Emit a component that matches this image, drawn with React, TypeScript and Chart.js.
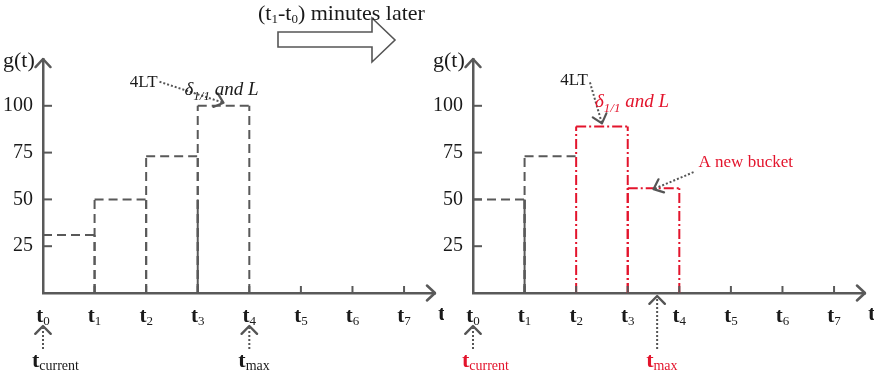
import React, { useEffect, useRef } from 'react';
import { Chart, registerables } from 'chart.js';

Chart.register(...registerables);

// ---------------- data ----------------
const tickValues = [0, 1, 2, 3, 4, 5, 6, 7];
const tickSubs = ['0', '1', '2', '3', '4', '5', '6', '7'];
const yTickValues = [25, 50, 75, 100];
const yTickLabels = ['25', '50', '75', '100'];
const xMax = 7.6;
const yMax = 125;

// before: bucket heights g(t) over [t0,t1], [t1,t2], [t2,t3], [t3,t4]
const beforeLevels = [31, 50, 73, 100];
const beforeSolidEdge = [3, 50]; // tick index, height of solid part
const beforeTmax = 4;
const beforeLabelBucket = 3;

// after (t1 - t0) minutes
const afterGrayLevels = [50, 73]; // buckets starting at t0
const afterRedStart = 2;
const afterRedLevels = [89, 56]; // buckets starting at t2
const afterSolidEdge = [1, 50];
const afterTmax = 3.57;
const afterLabelBucket = 2;
const afterNewBucket = 3;
const tCurrent = 0;

// ---------------- styles ----------------
const GRAY = '#595959';
const ARROW = '#555555';
const RED = '#e3142c';
const INK = '#1a1a1a';
const SERIF = '"Liberation Serif", "Times New Roman", serif';
const DASH_GRAY = [9, 5];
const DASH_RED = [10, 3, 2, 3];

type Pt = { x: number; y: number };
type Seg = { pts: Pt[]; color: string; dash: number[] };

function buckets(levels: number[], start: number, color: string, dash: number[], skipRightAt = -1): Seg[] {
  const segs: Seg[] = [];
  levels.forEach((L, k) => {
    const a = start + k;
    const b = a + 1;
    segs.push({ pts: [{ x: a, y: L }, { x: b, y: L }], color, dash });
    if (a > 0) segs.push({ pts: [{ x: a, y: 0 }, { x: a, y: L }], color, dash });
    if (b !== skipRightAt) segs.push({ pts: [{ x: b, y: 0 }, { x: b, y: L }], color, dash });
  });
  return segs;
}

function solidEdge(edge: number[], color: string): Seg {
  return { pts: [{ x: edge[0], y: 0 }, { x: edge[0], y: edge[1] }], color, dash: [] };
}

type Run = { text: string; font: string; dy?: number };

function drawRuns(ctx: CanvasRenderingContext2D, x: number, base: number, runs: Run[], align: string, color: string) {
  ctx.fillStyle = color;
  ctx.textAlign = 'left';
  ctx.textBaseline = 'alphabetic';
  let total = 0;
  runs.forEach((r) => {
    ctx.font = r.font;
    total += ctx.measureText(r.text).width;
  });
  let cx = align === 'left' ? x : align === 'center' ? x - total / 2 : x - total;
  runs.forEach((r) => {
    ctx.font = r.font;
    ctx.fillText(r.text, cx, base + (r.dy || 0));
    cx += ctx.measureText(r.text).width;
  });
}

function chevron(ctx: CanvasRenderingContext2D, tx: number, ty: number, angle: number, len: number, spread: number) {
  ctx.beginPath();
  ctx.moveTo(tx + len * Math.cos(angle + Math.PI - spread), ty + len * Math.sin(angle + Math.PI - spread));
  ctx.lineTo(tx, ty);
  ctx.lineTo(tx + len * Math.cos(angle + Math.PI + spread), ty + len * Math.sin(angle + Math.PI + spread));
  ctx.stroke();
}

function dottedArrow(ctx: CanvasRenderingContext2D, x1: number, y1: number, x2: number, y2: number) {
  ctx.save();
  ctx.strokeStyle = ARROW;
  ctx.lineWidth = 2;
  ctx.setLineDash([2, 2]);
  ctx.beginPath();
  ctx.moveTo(x1, y1);
  ctx.lineTo(x2, y2);
  ctx.stroke();
  ctx.setLineDash([]);
  ctx.lineWidth = 2.2;
  ctx.lineCap = 'round';
  chevron(ctx, x2, y2, Math.atan2(y2 - y1, x2 - x1), 11, 0.7);
  ctx.restore();
}

const deltaRuns = (): Run[] => [
  { text: 'δ', font: `italic 19px ${SERIF}` },
  { text: '1/1', font: `italic 13px ${SERIF}`, dy: 5 },
  { text: ' and L', font: `italic 19px ${SERIF}` },
];

type Cfg = {
  after: boolean;
  tmax: number;
  timeColor: string;
};

function overlay(cfg: Cfg) {
  return {
    id: 'overlay',
    afterDraw(chart: any) {
      const ctx: CanvasRenderingContext2D = chart.ctx;
      const ca = chart.chartArea;
      const xs = chart.scales.x;
      const ys = chart.scales.y;
      ctx.save();
      // axis arrowheads
      ctx.strokeStyle = GRAY;
      ctx.lineWidth = 2.5;
      ctx.lineCap = 'round';
      ctx.lineJoin = 'round';
      chevron(ctx, ca.left, ca.top, -Math.PI / 2, 11, 0.75);
      chevron(ctx, ca.right, ca.bottom, 0, 11, 0.75);
      // tick marks
      ctx.lineWidth = 2;
      ctx.lineCap = 'butt';
      tickValues.slice(1).forEach((v) => {
        const px = xs.getPixelForValue(v);
        ctx.beginPath();
        ctx.moveTo(px, ca.bottom);
        ctx.lineTo(px, ca.bottom - 7);
        ctx.stroke();
      });
      yTickValues.forEach((v) => {
        const py = ys.getPixelForValue(v);
        ctx.beginPath();
        ctx.moveTo(ca.left, py);
        ctx.lineTo(ca.left + 9, py);
        ctx.stroke();
      });
      // x tick labels
      tickValues.forEach((v, i) => {
        drawRuns(ctx, xs.getPixelForValue(v), ca.bottom + 29, [
          { text: 't', font: `bold 21px ${SERIF}` },
          { text: tickSubs[i], font: `13px ${SERIF}`, dy: 3 },
        ], 'center', INK);
      });
      drawRuns(ctx, ca.right + 3, ca.bottom + 27, [{ text: 't', font: `bold 22px ${SERIF}` }], 'left', INK);
      // y axis title
      drawRuns(ctx, ca.left - 40, ca.top + 8, [{ text: 'g(t)', font: `22px ${SERIF}` }], 'left', INK);

      // t_current / t_max arrows
      const timeMark = (val: number, sub: string) => {
        const px = xs.getPixelForValue(val);
        const onTick = Math.abs(val - Math.round(val)) < 1e-6;
        const tip = onTick ? ca.bottom + 33 : ca.bottom + 3;
        ctx.save();
        ctx.strokeStyle = ARROW;
        ctx.lineWidth = 2;
        ctx.setLineDash([2, 2]);
        ctx.beginPath();
        ctx.moveTo(px, ca.bottom + 56);
        ctx.lineTo(px, tip + 2);
        ctx.stroke();
        ctx.setLineDash([]);
        ctx.lineWidth = 2.4;
        ctx.lineCap = 'round';
        chevron(ctx, px, tip, -Math.PI / 2, 11, 0.78);
        ctx.restore();
        drawRuns(ctx, px - 11, ca.bottom + 74, [
          { text: 't', font: `bold 22px ${SERIF}` },
          { text: sub, font: `14px ${SERIF}`, dy: 3 },
        ], 'left', cfg.timeColor);
      };
      timeMark(tCurrent, 'current');
      timeMark(cfg.tmax, 'max');

      if (!cfg.after) {
        // 4LT pointing to the top bucket
        const tx = xs.getPixelForValue(beforeLabelBucket + 0.5);
        const ty = ys.getPixelForValue(beforeLevels[beforeLabelBucket]) - 3;
        dottedArrow(ctx, tx - 64, ty - 21, tx, ty);
        drawRuns(ctx, tx - 66, ty - 16, [{ text: '4LT', font: `17px ${SERIF}` }], 'right', INK);
        drawRuns(ctx, tx - 39, ty - 8, deltaRuns(), 'left', INK);

        // title with big hollow arrow
        ctx.save();
        ctx.fillStyle = '#ffffff';
        ctx.strokeStyle = ARROW;
        ctx.lineWidth = 1.6;
        ctx.lineJoin = 'miter';
        ctx.beginPath();
        const ax = 278, ay = 40;
        ctx.moveTo(ax, ay - 8);
        ctx.lineTo(ax + 94, ay - 8);
        ctx.lineTo(ax + 94, ay - 22);
        ctx.lineTo(ax + 117, ay);
        ctx.lineTo(ax + 94, ay + 22);
        ctx.lineTo(ax + 94, ay + 7);
        ctx.lineTo(ax, ay + 7);
        ctx.closePath();
        ctx.fill();
        ctx.stroke();
        ctx.restore();
        drawRuns(ctx, 258, 20, [
          { text: '(t', font: `22px ${SERIF}` },
          { text: '1', font: `13px ${SERIF}`, dy: 3 },
          { text: '-t', font: `22px ${SERIF}` },
          { text: '0', font: `13px ${SERIF}`, dy: 3 },
          { text: ') minutes later', font: `22px ${SERIF}` },
        ], 'left', INK);
      } else {
        const tx = xs.getPixelForValue(afterLabelBucket + 0.5);
        const ty = ys.getPixelForValue(afterRedLevels[afterLabelBucket - afterRedStart]) - 3;
        dottedArrow(ctx, tx - 12, ty - 41, tx, ty);
        drawRuns(ctx, tx - 14, ty - 38, [{ text: '4LT', font: `17px ${SERIF}` }], 'right', INK);
        drawRuns(ctx, tx - 7, ty - 16, deltaRuns(), 'left', RED);

        const nx = xs.getPixelForValue(afterNewBucket + 0.5);
        const ny = ys.getPixelForValue(afterRedLevels[afterNewBucket - afterRedStart]) + 1;
        dottedArrow(ctx, nx + 40, ny - 17, nx, ny);
        drawRuns(ctx, nx + 45, ny - 22, [{ text: 'A new bucket', font: `17px ${SERIF}` }], 'left', RED);
      }
      ctx.restore();
    },
  };
}

function buildConfig(segs: Seg[], cfg: Cfg, width: number): any {
  return {
    type: 'scatter',
    data: {
      datasets: segs.map((s) => ({
        data: s.pts,
        showLine: true,
        borderColor: s.color,
        borderDash: s.dash,
        borderWidth: 2,
        pointRadius: 0,
        fill: false,
        tension: 0,
      })),
    },
    options: {
      responsive: false,
      animation: false,
      events: [],
      layout: { padding: { left: 3, right: width - 435, top: 59, bottom: 81 } },
      plugins: { legend: { display: false }, tooltip: { enabled: false } },
      scales: {
        x: {
          type: 'linear',
          min: 0,
          max: xMax,
          grid: { display: false, drawTicks: false },
          ticks: { display: false },
          border: { display: true, color: GRAY, width: 2.5 },
        },
        y: {
          type: 'linear',
          min: 0,
          max: yMax,
          afterBuildTicks: (s: any) => {
            s.ticks = yTickValues.map((v) => ({ value: v }));
          },
          afterFit: (s: any) => {
            s.width = 40;
          },
          grid: { display: false, drawTicks: false },
          ticks: {
            padding: 10,
            color: INK,
            font: { family: SERIF, size: 20 },
            callback: (v: number) => {
              const i = yTickValues.indexOf(v);
              return i >= 0 ? yTickLabels[i] : '';
            },
          },
          border: { display: true, color: GRAY, width: 2.5 },
        },
      },
    },
    plugins: [overlay(cfg)],
  };
}

function Panel({ segs, cfg, left, width }: { segs: Seg[]; cfg: Cfg; left: number; width: number }) {
  const ref = useRef<HTMLCanvasElement>(null);
  useEffect(() => {
    const chart = new Chart(ref.current as HTMLCanvasElement, buildConfig(segs, cfg, width));
    return () => chart.destroy();
  }, []);
  return (
    <canvas
      ref={ref}
      width={width}
      height={374}
      style={{ position: 'absolute', left, top: 0, width, height: 374 }}
    />
  );
}

const beforeSegs: Seg[] = [
  ...buckets(beforeLevels, 0, GRAY, DASH_GRAY),
  solidEdge(beforeSolidEdge, GRAY),
];

const afterSegs: Seg[] = [
  ...buckets(afterGrayLevels, 0, GRAY, DASH_GRAY, afterRedStart),
  solidEdge(afterSolidEdge, GRAY),
  ...buckets(afterRedLevels, afterRedStart, RED, DASH_RED),
];

export default function App() {
  useEffect(() => {
    document.body.style.margin = '0';
  }, []);
  return (
    <div style={{ position: 'fixed', left: 0, top: 0, width: 874, height: 374, background: '#ffffff', overflow: 'hidden' }}>
      <Panel segs={beforeSegs} cfg={{ after: false, tmax: beforeTmax, timeColor: INK }} left={0} width={444} />
      <Panel segs={afterSegs} cfg={{ after: true, tmax: afterTmax, timeColor: RED }} left={430} width={444} />
    </div>
  );
}
